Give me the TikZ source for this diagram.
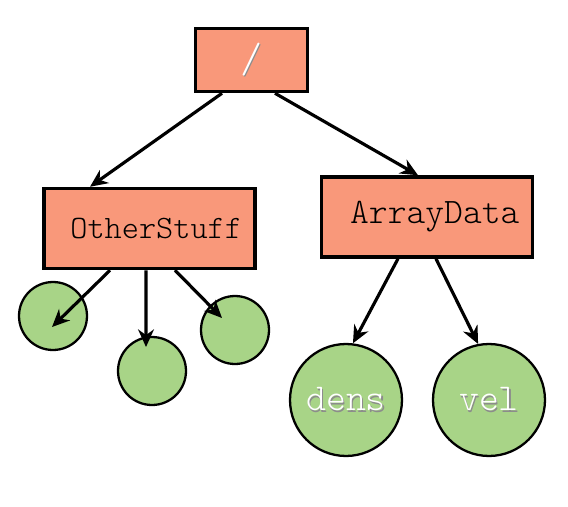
\documentclass[tikz,border=0pt]{standalone}
\usetikzlibrary{arrows.meta,positioning}
\definecolor{salmon}{RGB}{249,152,122}
\definecolor{leafgreen}{RGB}{168,212,135}
\newcommand{\glowtext}[1]{\makebox[0pt][l]{\kern0.8pt\raisebox{-0.8pt}{\textcolor{black!45}{#1}}}\textcolor{white}{#1}}
\newcommand{\lighttt}{\ttfamily\fontseries{l}\selectfont}

\begin{document}
\begin{tikzpicture}[
    x=0.02cm, y=-0.02cm,
    group/.style={
        rectangle,
        draw=black,
        line width=2pt,
        fill=salmon,
        font=\lighttt\fontsize{18.6}{21}\selectfont
    },
    groupwide/.style={
        group,
        minimum height=1.6cm,
        text width=3.7cm,
        inner xsep=0.26cm,
        align=right
    },
    dataset/.style={
        circle,
        draw=black,
        line width=1.3pt,
        fill=leafgreen,
        inner sep=0pt,
        font=\lighttt\fontsize{21.6}{25}\selectfont
    },
    link/.style={-{Stealth[length=10pt,width=9pt]}, line width=1.8pt}
]
    \useasboundingbox (0,0) rectangle (568,507);

    % Groups
    \node[group, minimum width=2.24cm, minimum height=1.26cm, font=\lighttt\fontsize{24}{28}\selectfont] (root) at (251.5,60) {\glowtext{/}};
    \node[groupwide] (other) at (149.5,228.5) {OtherStuff};
    \node[groupwide, font=\lighttt\fontsize{20.4}{24}\selectfont] (array) at (427,217) {ArrayData};

    % Datasets
    \node[dataset, minimum size=1.36cm] (misc1) at (53,316) {};
    \node[dataset, minimum size=1.36cm] (misc2) at (152,371) {};
    \node[dataset, minimum size=1.36cm] (misc3) at (235,330) {};
    \node[dataset, minimum size=2.24cm] (dens) at (346,400) {\glowtext{dens}};
    \node[dataset, minimum size=2.24cm] (vel) at (489,400) {\glowtext{vel}};

    % Links
    \draw[link] ([xshift=-0.59cm]root.south) -- ([xshift=-1.19cm]other.north);
    \draw[link] ([xshift=0.47cm]root.south) -- ([xshift=-0.18cm]array.north);
    \draw[link] ([xshift=-0.79cm]other.south) -- ([xshift=-0.02cm,yshift=-0.22cm]misc1.center);
    \draw[link] ([xshift=-0.07cm]other.south) -- ([xshift=-0.12cm,yshift=0.48cm]misc2.center);
    \draw[link] ([xshift=0.51cm]other.south) -- ([xshift=-0.26cm,yshift=0.24cm]misc3.center);
    \draw[link] ([xshift=-0.58cm]array.south) -- (dens.83);
    \draw[link] ([xshift=0.18cm]array.south) -- (vel.101);
\end{tikzpicture}
\end{document}
